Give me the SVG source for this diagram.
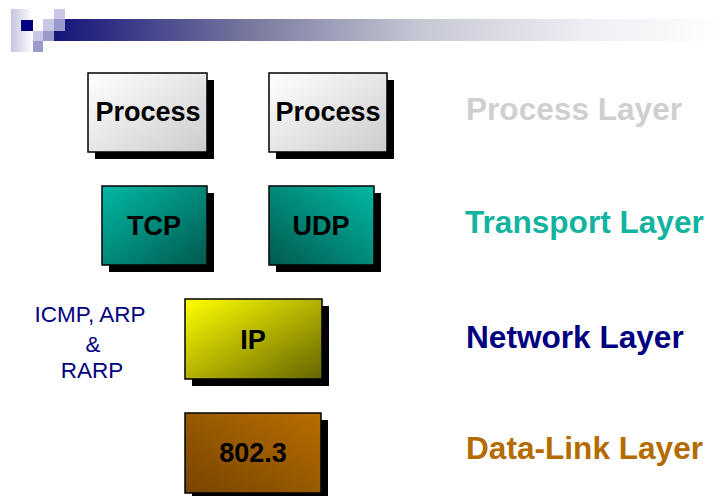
<svg xmlns="http://www.w3.org/2000/svg" width="722" height="496" viewBox="0 0 722 496">
<style>
.box{stroke:#000;stroke-width:1.5}
.sh{fill:#000}
.bt{font-family:"Liberation Sans",Arial,sans-serif;font-weight:bold;font-size:27px;fill:#000;text-anchor:middle}
.lt{font-family:"Liberation Sans",Arial,sans-serif;font-weight:bold;font-size:31.6px}
.side{font-family:"Liberation Sans",Arial,sans-serif;font-size:22.5px;fill:#000080;text-anchor:middle}
</style>
<defs>
<linearGradient id="bar" x1="0" y1="0" x2="1" y2="0">
<stop offset="0" stop-color="#14147a"/>
<stop offset="0.3" stop-color="#7a7aa0"/>
<stop offset="0.55" stop-color="#c6c8d4"/>
<stop offset="0.8" stop-color="#eeeef4"/>
<stop offset="1" stop-color="#ffffff"/>
</linearGradient>
<linearGradient id="strip" x1="0" y1="0" x2="1" y2="0">
<stop offset="0" stop-color="#c4c4e0"/>
<stop offset="1" stop-color="#ffffff"/>
</linearGradient>
<linearGradient id="gProc" x1="0" y1="0" x2="1" y2="1">
<stop offset="0" stop-color="#ffffff"/>
<stop offset="1" stop-color="#cccccc"/>
</linearGradient>
<linearGradient id="gTcp" x1="0" y1="0" x2="1" y2="1">
<stop offset="0" stop-color="#00b8a4"/>
<stop offset="1" stop-color="#005a4e"/>
</linearGradient>
<linearGradient id="gUdp" x1="1" y1="0" x2="0" y2="1">
<stop offset="0" stop-color="#00b8a4"/>
<stop offset="1" stop-color="#005a4e"/>
</linearGradient>
<linearGradient id="gIp" x1="0" y1="0" x2="1" y2="1">
<stop offset="0" stop-color="#ffff00"/>
<stop offset="1" stop-color="#646400"/>
</linearGradient>
<linearGradient id="gEth" x1="1" y1="0" x2="0" y2="1">
<stop offset="0" stop-color="#b86e00"/>
<stop offset="1" stop-color="#784400"/>
</linearGradient>
</defs>
<g id="header">
<rect x="54" y="19" width="668" height="22" fill="url(#bar)"/>
<rect x="11" y="9" width="22" height="43" fill="url(#strip)"/>
<rect x="21" y="20" width="12" height="11" fill="#000080"/>
<rect x="33" y="31" width="10" height="10" fill="#c8c8e4"/>
<rect x="33" y="41" width="10" height="11" fill="#9a9acc"/>
<rect x="43" y="19" width="11" height="12" fill="#c8c8e4"/>
<rect x="43" y="31" width="11" height="10" fill="#9a9acc"/>
<rect x="54" y="9" width="11" height="10" fill="#c8c8e4"/>
<rect x="54" y="19" width="11" height="12" fill="#9a9acc"/>
</g>
<g id="connectors"></g>
<g id="process1">
<rect class="sh" x="95" y="80" width="119" height="79"/>
<rect class="box" x="88" y="73" width="119" height="79" fill="url(#gProc)"/>
<text class="bt" x="148" y="121">Process</text>
</g>
<g id="process2">
<rect class="sh" x="276" y="80" width="118" height="79"/>
<rect class="box" x="269" y="73" width="118" height="79" fill="url(#gProc)"/>
<text class="bt" x="328" y="121">Process</text>
</g>
<g id="tcp">
<rect class="sh" x="109" y="193" width="105" height="79"/>
<rect class="box" x="102" y="186" width="105" height="79" fill="url(#gTcp)"/>
<text class="bt" x="154" y="235">TCP</text>
</g>
<g id="udp">
<rect class="sh" x="276" y="193" width="105" height="79"/>
<rect class="box" x="269" y="186" width="105" height="79" fill="url(#gUdp)"/>
<text class="bt" x="321" y="235">UDP</text>
</g>
<g id="ip">
<rect class="sh" x="192" y="306" width="137" height="80"/>
<rect class="box" x="185" y="299" width="137" height="80" fill="url(#gIp)"/>
<text class="bt" x="253" y="349" font-size="28">IP</text>
</g>
<g id="ethernet">
<rect class="sh" x="192" y="420" width="136" height="80"/>
<rect class="box" x="185" y="413" width="136" height="80" fill="url(#gEth)"/>
<text class="bt" x="253" y="462">802.3</text>
</g>
<g id="side-protocols">
<text class="side" x="90" y="322">ICMP, ARP</text>
<text class="side" x="93" y="352">&amp;</text>
<text class="side" x="92" y="378">RARP</text>
</g>
<g id="layer-labels">
<text class="lt" x="466" y="120" fill="#cfcfcf">Process Layer</text>
<text class="lt" x="465" y="233" fill="#12b4a0">Transport Layer</text>
<text class="lt" x="466" y="348" fill="#000080">Network Layer</text>
<text class="lt" x="466" y="459" fill="#b46c00">Data-Link Layer</text>
</g>
</svg>
